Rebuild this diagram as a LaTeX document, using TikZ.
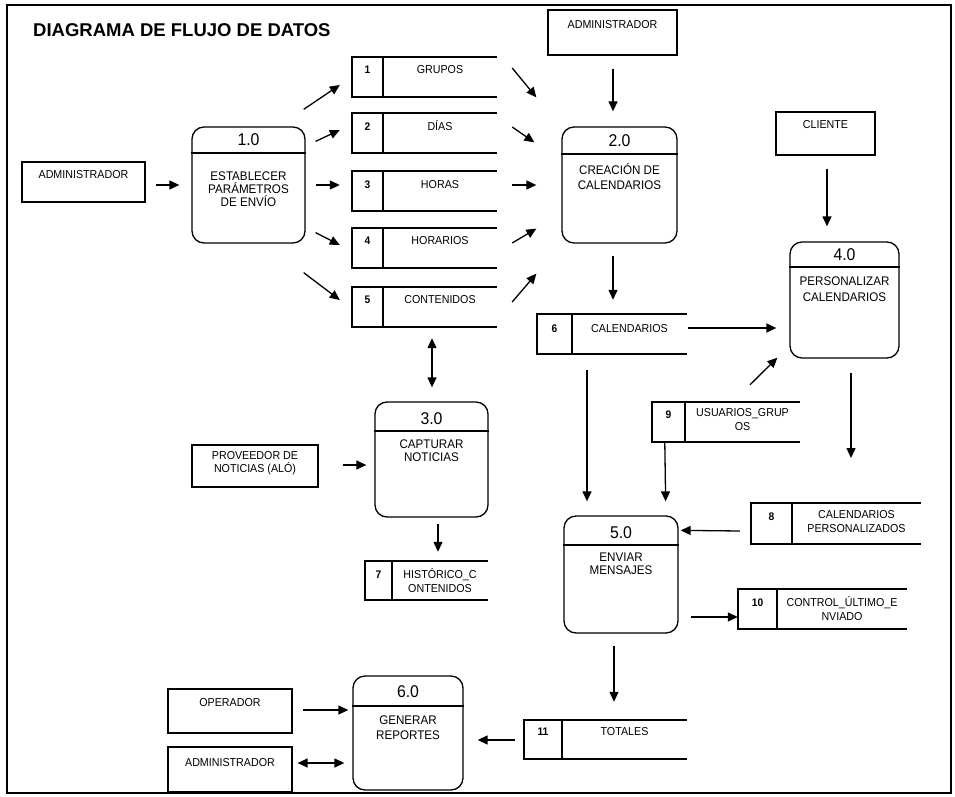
\documentclass[tikz,border=0pt]{standalone}
\usepackage{fontspec}
\setmainfont{Liberation Sans}
\newfontfamily\dfdfont{Liberation Sans}[FakeStretch=0.93]
\newfontfamily\titlefont{Liberation Sans}
\usetikzlibrary{arrows.meta,calc}
\tikzset{
  ln/.style={line width=1.2pt},
  arr/.style={line width=1.3pt,-{Triangle[length=10pt,width=9pt]}},
  darr/.style={line width=1.3pt,{Triangle[length=10pt,width=9pt]}-{Triangle[length=10pt,width=9pt]}},
  proc/.style={draw,line width=1.3pt,rounded corners=12pt,inner sep=0pt},
  ent/.style={draw,line width=1.2pt,inner sep=0pt},
  storebox/.style={inner sep=0pt},
  lbl/.style={font=\dfdfont\fontsize{11.5}{14}\selectfont,inner sep=0pt,align=center,anchor=north,execute at begin node=\vphantom{Á}},
  plbl/.style={lbl,font=\dfdfont\fontsize{12.5}{14}\selectfont},
  numlbl/.style={font=\dfdfont\fontsize{17}{20}\selectfont,inner sep=0pt},
  snum/.style={font=\dfdfont\bfseries\fontsize{11}{12}\selectfont,inner sep=0pt,anchor=north,execute at begin node=\vphantom{Á}},
}
% name, x1, xdiv, x2, y1, y2, number, text y, text
\newcommand\dfdstore[9]{%
  \node[storebox,minimum width={#4-#2},minimum height={#6-#5}] (#1) at ({(#2+#4)/2},{(#5+#6)/2}) {};
  \draw[ln] (#2,#5) rectangle (#3,#6);
  \draw[ln] (#3,#5) -- (#4,#5) (#3,#6) -- (#4,#6);
  \node[snum] at ({(#2+#3)/2},{#8-6.6}) {#7};
  \node[lbl] at ({(#3+#4)/2},{#8-6.6}) {#9};
}
\begin{document}
\begin{tikzpicture}[x=1pt,y=-1pt]
\useasboundingbox (0,0) rectangle (955,797);
\draw[line width=1.5pt] (7,5) rectangle (951,793);
\node[anchor=west,inner sep=0pt,font=\titlefont\bfseries\fontsize{18.5}{20}\selectfont] (title) at (33,30) {DIAGRAMA DE FLUJO DE DATOS};

% processes
\node[proc,minimum width=113pt,minimum height=116pt] (p1) at (248.5,185) {};
\draw[ln] (p1.west |- 0,153) -- (p1.east |- 0,153);
\node[numlbl] at (248.5,140) {1.0};
\node[plbl,font=\dfdfont\fontsize{12.5}{13}\selectfont] at (248.5,172) {ESTABLECER\\PARÁMETROS\\DE ENVÍO};

\node[proc,minimum width=115pt,minimum height=116pt] (p2) at (619.5,185) {};
\draw[ln] (p2.west |- 0,154) -- (p2.east |- 0,154);
\node[numlbl] at (619.5,141) {2.0};
\node[plbl,font=\dfdfont\fontsize{12.5}{15}\selectfont] at (619.5,163) {CREACIÓN DE\\CALENDARIOS};

\node[proc,minimum width=113pt,minimum height=115pt] (p3) at (431.5,459.5) {};
\draw[ln] (p3.west |- 0,431) -- (p3.east |- 0,431);
\node[numlbl] at (431.5,419) {3.0};
\node[plbl,font=\dfdfont\fontsize{12.5}{13}\selectfont] at (431.5,440) {CAPTURAR\\NOTICIAS};

\node[proc,minimum width=109pt,minimum height=116pt] (p4) at (844.5,300) {};
\draw[ln] (p4.west |- 0,267) -- (p4.east |- 0,267);
\node[numlbl] at (844.5,255) {4.0};
\node[plbl,font=\dfdfont\fontsize{12.5}{16}\selectfont] at (844.5,277) {PERSONALIZAR\\CALENDARIOS};

\node[proc,minimum width=114pt,minimum height=117pt] (p5) at (621,574.5) {};
\draw[ln] (p5.west |- 0,545) -- (p5.east |- 0,545);
\node[numlbl] at (621,533) {5.0};
\node[plbl,font=\dfdfont\fontsize{12.5}{13}\selectfont] at (621,553) {ENVIAR\\MENSAJES};

\node[proc,minimum width=110pt,minimum height=114pt] (p6) at (408,733) {};
\draw[ln] (p6.west |- 0,706) -- (p6.east |- 0,706);
\node[numlbl] at (408,692) {6.0};
\node[plbl,font=\dfdfont\fontsize{12.5}{15}\selectfont] at (408,716) {GENERAR\\REPORTES};

% external entities
\node[ent,minimum width=123pt,minimum height=40pt] (adm1) at (83.5,182) {};
\node[lbl] at (83.5,168.4) {ADMINISTRADOR};
\node[ent,minimum width=129pt,minimum height=45pt] (adm2) at (612.5,32.5) {};
\node[lbl] at (612.5,18.4) {ADMINISTRADOR};
\node[ent,minimum width=99pt,minimum height=43pt] (cli) at (825.5,133.5) {};
\node[lbl] at (825.5,118.4) {CLIENTE};
\node[ent,minimum width=126pt,minimum height=42pt] (prov) at (255,466) {};
\node[lbl,font=\dfdfont\fontsize{11.5}{12.5}\selectfont] at (255,451.4) {PROVEEDOR DE\\NOTICIAS (ALÓ)};
\node[ent,minimum width=124pt,minimum height=44pt] (oper) at (230,711) {};
\node[lbl] at (230,696.4) {OPERADOR};
\node[ent,minimum width=124pt,minimum height=45pt] (adm3) at (230,769.5) {};
\node[lbl] at (230,756.4) {ADMINISTRADOR};

% data stores
\dfdstore{s1}{352}{383}{497}{57}{97}{1}{70}{GRUPOS}
\dfdstore{s2}{352}{383}{497}{113}{153}{2}{127}{DÍAS}
\dfdstore{s3}{352}{383}{497}{171}{211}{3}{185}{HORAS}
\dfdstore{s4}{352}{383}{497}{228}{268}{4}{241}{HORARIOS}
\dfdstore{s5}{352}{383}{497}{287}{327}{5}{300}{CONTENIDOS}
\dfdstore{s6}{537}{572}{687}{314}{354}{6}{329}{CALENDARIOS}
\dfdstore{s7}{365}{392}{488}{561}{600}{7}{575}{HISTÓRICO\_C\\ONTENIDOS}
\dfdstore{s8}{751}{792}{921}{503}{544}{8}{517}{CALENDARIOS\\PERSONALIZADOS}
\dfdstore{s9}{652}{685}{800}{402}{442}{9}{415}{USUARIOS\_GRUP\\OS}
\dfdstore{s10}{738}{777}{907}{589}{629}{10}{603}{CONTROL\_ÚLTIMO\_E\\NVIADO}
\dfdstore{s11}{524}{562}{687}{720}{759}{11}{732}{TOTALES}

\coordinate (c6end) at (851,458);

% connectors
\draw[arr] ($(adm1.east)+(10,3)$) -- ($(p1.west)+(-12,0)$);
\draw[arr] ($(p1.north east)+(-2,-17)$) -- ($(s1.west)+(-12,8)$);
\draw[arr] ($(p1.north east)+(10,15)$) -- ($(s2.west)+(-12,-3)$);
\draw[arr] ($(p1.east)+(10,0)$) -- ($(s3.west)+(-12,-6)$);
\draw[arr] ($(p1.south east)+(10,-11)$) -- ($(s4.west)+(-12,-3)$);
\draw[arr] ($(p1.south east)+(-2,29)$) -- ($(s5.west)+(-12,-7)$);

\draw[arr] ($(s1.east)+(15,-9)$) -- ($(p2.north west)+(-25,-29)$);
\draw[arr] ($(s2.east)+(15,-6)$) -- ($(p2.north west)+(-27,16)$);
\draw[arr] ($(s3.east)+(15,-6)$) -- ($(p2.west)+(-25,0)$);
\draw[arr] ($(s4.east)+(15,-5)$) -- ($(p2.south west)+(-25,-15)$);
\draw[arr] ($(s5.east)+(15,-5)$) -- ($(p2.south west)+(-25,30)$);

\draw[arr] ($(adm2.south)+(0.5,13)$) -- ($(p2.north)+(-6.5,-15)$);
\draw[arr] ($(p2.south)+(-6.5,12)$) -- ($(s6.north)+(1,-14)$);
\draw[arr] ($(s6.east)+(1,-6)$) -- ($(p4.west)+(-13,28)$);
\draw[arr] ($(cli.south)+(1.5,13)$) -- ($(p4.north)+(-17.5,-15)$);
\draw[arr] ($(s9.north)+(24,-17)$) -- ($(p4.south west)+(-12,-1)$);
\draw[arr] ($(p4.south)+(6.5,14)$) -- (c6end);

\draw[arr] ($(s6.south)+(-25,16)$) -- ($(p5.north)+(-34,-14)$);
\draw[arr] ($(s9.south west)+(13,1)$) -- ($(p5.north east)+(-13,-14)$);
\draw[arr] ($(s8.west)+(-11,7.5)$) -- ($(p5.north east)+(2,15)$);
\draw[arr] ($(p5.east)+(12,42.5)$) -- ($(s10.west)+(0,8)$);
\draw[arr] ($(p5.south)+(-7,12)$) -- ($(s11.north)+(8.5,-18)$);

\draw[arr] ($(s11.west)+(-9,0.5)$) -- ($(p6.east)+(14,7)$);
\draw[arr] ($(oper.east)+(10,-1)$) -- ($(p6.west)+(-4,-23)$);
\draw[darr] ($(adm3.east)+(5,-6.5)$) -- ($(p6.west)+(-8,30)$);

\draw[darr] ($(s5.south)+(7.5,11)$) -- ($(p3.north)+(0.5,-14)$);
\draw[arr] ($(prov.east)+(24,-1)$) -- ($(p3.west)+(-8,5.5)$);
\draw[arr] ($(p3.south)+(6.5,6)$) -- ($(s7.north)+(11.5,-9)$);
\end{tikzpicture}
\end{document}
